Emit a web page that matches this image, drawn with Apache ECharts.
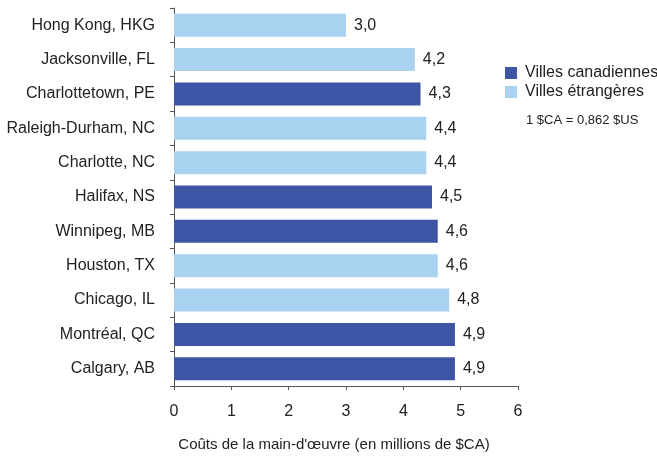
<!DOCTYPE html>
<html>
<head>
<meta charset="utf-8">
<script src="https://cdn.jsdelivr.net/npm/echarts@6/dist/echarts.min.js"></script>
<style>
  html, body { margin: 0; padding: 0; background: #fff; }
  #chart { width: 657px; height: 457px; }
</style>
</head>
<body>
<div id="chart"></div>
<script>
const cities = [
  'Hong Kong, HKG', 'Jacksonville, FL', 'Charlottetown, PE', 'Raleigh-Durham, NC',
  'Charlotte, NC', 'Halifax, NS', 'Winnipeg, MB', 'Houston, TX',
  'Chicago, IL', 'Montréal, QC', 'Calgary, AB'
]
const costs = [3.0, 4.2, 4.3, 4.4, 4.4, 4.5, 4.6, 4.6, 4.8, 4.9, 4.9]
// true = Canadian city
const isCanadian = [false, false, true, false, false, true, true, false, false, true, true]
const xTicks = [0, 1, 2, 3, 4, 5, 6]

const FONT = '"Liberation Sans", Arial, sans-serif'
const DARK = '#3e55a5'
const LIGHT = '#a9d1f0'

const fmt = v => v.toFixed(1).replace('.', ',')

function seriesFor(name, flag, color) {
  return {
    name,
    type: 'bar',
    stack: 'cost',
    barWidth: 23,
    data: costs.map((v, i) => (isCanadian[i] === flag ? v : null)),
    itemStyle: { color },
    label: {
      show: true,
      position: 'right',
      distance: 8,
      color: '#222',
      fontFamily: FONT,
      fontSize: 16,
      formatter: p => fmt(p.value)
    }
  }
}

const chart = echarts.init(document.getElementById('chart'))
chart.setOption({
  animation: false,
  textStyle: { fontFamily: FONT },
  grid: { left: 174, right: 139, top: 8, bottom: 69, containLabel: false },
  legend: {
    orient: 'vertical',
    left: 500,
    top: 60,
    itemWidth: 12,
    itemHeight: 12,
    itemGap: 3,
    icon: 'rect',
    textStyle: { fontFamily: FONT, fontSize: 16, color: '#222', padding: [0, 0, 0, 3] },
    data: ['Villes canadiennes', 'Villes étrangères']
  },
  xAxis: {
    type: 'value',
    min: xTicks[0],
    max: xTicks[xTicks.length - 1],
    interval: 1,
    splitLine: { show: false },
    axisLine: { show: true, lineStyle: { color: '#555' } },
    axisTick: { show: true, length: 4, lineStyle: { color: '#555' } },
    axisLabel: { color: '#222', fontSize: 16, margin: 18, fontFamily: FONT },
    name: "Coûts de la main-d'œuvre (en millions de $CA)",
    nameLocation: 'middle',
    nameGap: 51,
    nameTextStyle: { color: '#222', fontSize: 15, fontFamily: FONT, padding: [0, 24, 0, 0] }
  },
  yAxis: {
    type: 'category',
    inverse: true,
    data: cities,
    axisLine: { show: true, lineStyle: { color: '#555' } },
    axisTick: { show: true, length: 4, lineStyle: { color: '#555' } },
    axisLabel: { color: '#222', fontSize: 16, margin: 19, fontFamily: FONT }
  },
  graphic: [{
    type: 'text',
    left: 526,
    top: 114,
    style: { text: '1 $CA = 0,862 $US', font: '13px ' + FONT, fill: '#222' }
  }],
  series: [
    seriesFor('Villes canadiennes', true, DARK),
    seriesFor('Villes étrangères', false, LIGHT)
  ]
})
</script>
</body>
</html>
